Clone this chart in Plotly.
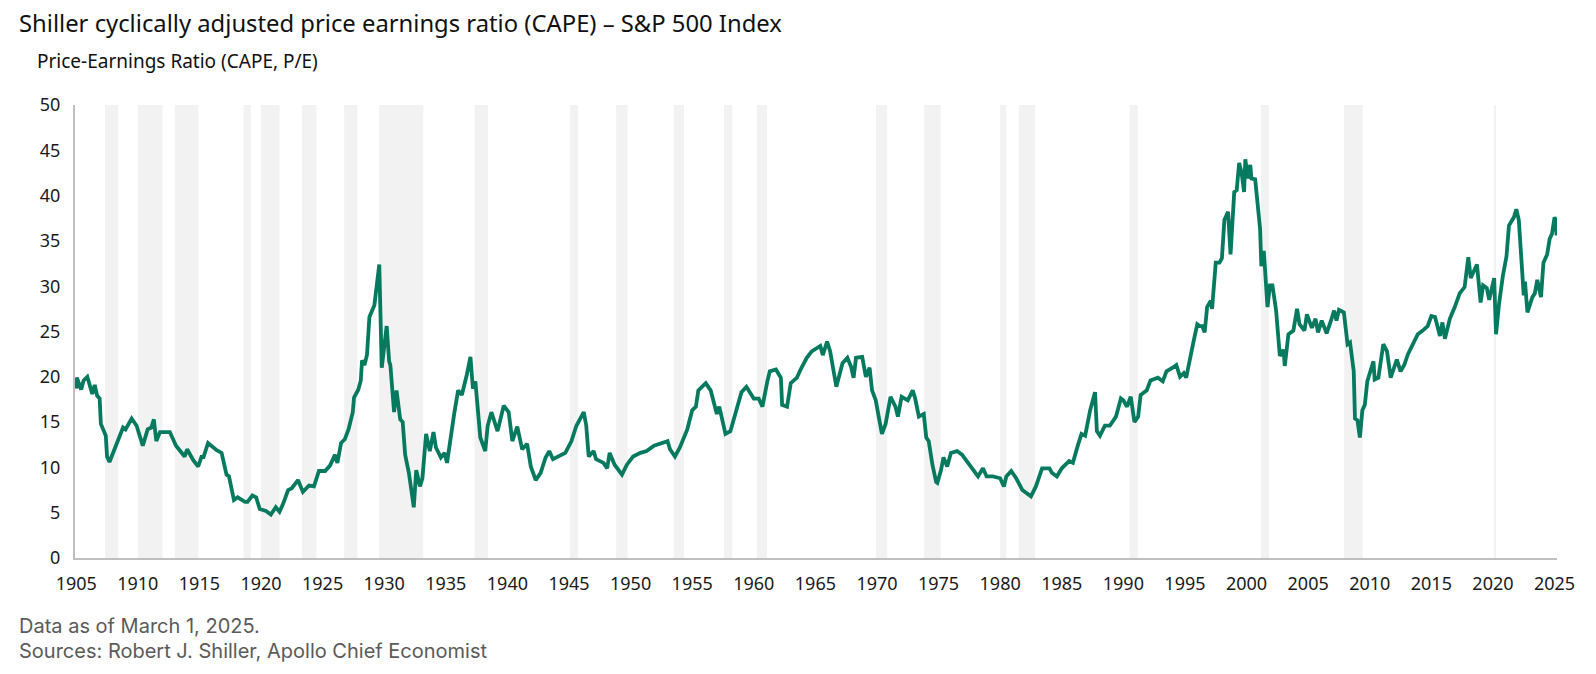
import plotly.graph_objects as go

# CAPE readings (decimal year, ratio)
years = [
    1905.0, 1905.05, 1905.4, 1905.6, 1905.9, 1906.3, 1906.5, 1906.7, 1906.9, 1907.0,
    1907.4, 1907.5, 1907.7, 1908.1, 1908.4, 1908.8, 1909.0, 1909.5, 1909.9, 1910.4,
    1910.8, 1911.1, 1911.3, 1911.5, 1911.8, 1912.6, 1913.1, 1913.8, 1914.0, 1914.5,
    1914.9, 1915.2, 1915.3, 1915.7, 1916.4, 1916.8, 1917.2, 1917.4, 1917.8, 1918.1,
    1918.7, 1918.9, 1919.3, 1919.6, 1919.9, 1920.4, 1920.8, 1921.2, 1921.5, 1921.8,
    1922.2, 1922.5, 1923.0, 1923.4, 1923.9, 1924.3, 1924.7, 1925.2, 1925.6, 1926.0,
    1926.2, 1926.5, 1926.8, 1927.1, 1927.45, 1927.55, 1927.9, 1928.1, 1928.2, 1928.4,
    1928.6, 1928.8, 1929.2, 1929.6, 1929.8, 1930.2, 1930.4, 1930.5, 1930.8, 1931.0,
    1931.3, 1931.5, 1931.7, 1932.0, 1932.4, 1932.6, 1932.9, 1933.1, 1933.4, 1933.7,
    1934.0, 1934.2, 1934.6, 1934.9, 1935.1, 1935.4, 1935.7, 1936.0, 1936.3, 1936.7,
    1937.0, 1937.2, 1937.4, 1937.8, 1938.2, 1938.4, 1938.7, 1939.2, 1939.7, 1940.1,
    1940.4, 1940.8, 1941.2, 1941.6, 1941.9, 1942.3, 1942.7, 1943.1, 1943.4, 1943.7,
    1944.1, 1944.7, 1945.2, 1945.6, 1946.2, 1946.4, 1946.6, 1947.0, 1947.2, 1947.8,
    1948.1, 1948.3, 1948.7, 1949.3, 1949.7, 1950.2, 1950.8, 1951.3, 1951.9, 1952.4,
    1953.0, 1953.2, 1953.6, 1954.0, 1954.6, 1955.0, 1955.3, 1955.5, 1955.8, 1956.1,
    1956.5, 1957.0, 1957.2, 1957.7, 1958.1, 1958.5, 1959.0, 1959.4, 1959.7, 1960.0,
    1960.4, 1960.7, 1961.1, 1961.3, 1961.8, 1962.2, 1962.3, 1962.7, 1963.0, 1963.5,
    1963.8, 1964.3, 1964.7, 1965.2, 1965.4, 1965.6, 1965.95, 1966.2, 1966.7, 1967.2,
    1967.6, 1967.9, 1968.1, 1968.3, 1968.8, 1969.1, 1969.4, 1969.6, 1969.9, 1970.1,
    1970.4, 1970.7, 1971.1, 1971.5, 1971.7, 1972.0, 1972.5, 1972.9, 1973.1, 1973.4,
    1973.8, 1974.0, 1974.2, 1974.5, 1974.8, 1974.9, 1975.2, 1975.4, 1975.7, 1976.0,
    1976.5, 1976.9, 1977.4, 1977.9, 1978.2, 1978.6, 1978.9, 1979.4, 1980.0, 1980.3,
    1980.5, 1980.9, 1981.3, 1981.8, 1982.2, 1982.5, 1982.9, 1983.4, 1984.0, 1984.2,
    1984.6, 1985.0, 1985.6, 1985.9, 1986.3, 1986.6, 1986.9, 1987.3, 1987.7, 1987.85,
    1988.1, 1988.5, 1988.9, 1989.4, 1989.8, 1990.0, 1990.3, 1990.6, 1990.9, 1991.2,
    1991.4, 1991.9, 1992.2, 1992.8, 1993.2, 1993.5, 1994.0, 1994.3, 1994.6, 1994.9,
    1995.1, 1995.4, 1995.7, 1996.0, 1996.2, 1996.4, 1996.6, 1996.8, 1997.1, 1997.2,
    1997.5, 1997.8, 1998.0, 1998.2, 1998.5, 1998.7, 1999.0, 1999.2, 1999.4, 1999.6,
    1999.8, 1999.9, 2000.1, 2000.3, 2000.4, 2000.7, 2000.9, 2001.1, 2001.2, 2001.4,
    2001.7, 2001.9, 2002.1, 2002.4, 2002.7, 2003.0, 2003.1, 2003.4, 2003.8, 2004.1,
    2004.3, 2004.7, 2004.9, 2005.3, 2005.6, 2005.8, 2006.1, 2006.5, 2006.9, 2007.1,
    2007.3, 2007.5, 2007.9, 2008.2, 2008.4, 2008.7, 2008.8, 2009.0, 2009.2, 2009.4,
    2009.6, 2009.8, 2010.0, 2010.3, 2010.4, 2010.7, 2011.1, 2011.4, 2011.7, 2012.2,
    2012.5, 2012.8, 2013.1, 2013.5, 2013.9, 2014.3, 2014.7, 2015.0, 2015.3, 2015.7,
    2015.9, 2016.1, 2016.5, 2016.9, 2017.3, 2017.7, 2018.0, 2018.2, 2018.7, 2019.0,
    2019.2, 2019.5, 2019.7, 2020.1, 2020.25, 2020.5, 2020.8, 2021.1, 2021.3, 2021.7,
    2021.9, 2022.1, 2022.3, 2022.5, 2022.6, 2022.8, 2023.2, 2023.4, 2023.6, 2023.9,
    2024.1, 2024.4, 2024.6, 2024.8, 2025.0, 2025.1, 2025.17,
]
cape = [
    18.7, 19.9, 18.6, 19.6, 20.0, 18.1, 19.1, 17.9, 17.6, 14.8,
    13.5, 11.2, 10.6, 12.0, 13.1, 14.4, 14.2, 15.4, 14.6, 12.4,
    14.2, 14.4, 15.3, 12.9, 13.9, 13.9, 12.4, 11.2, 12.0, 10.8,
    10.1, 11.3, 11.0, 12.7, 11.9, 11.6, 9.2, 9.0, 6.4, 6.7,
    6.2, 6.2, 6.9, 6.7, 5.4, 5.2, 4.8, 5.6, 5.1, 6.0,
    7.5, 7.7, 8.6, 7.3, 8.0, 7.9, 9.6, 9.6, 10.2, 11.4,
    10.5, 12.7, 13.1, 14.2, 16.1, 17.7, 18.6, 19.6, 21.8, 21.3,
    22.4, 26.6, 27.9, 32.4, 21.0, 25.6, 21.7, 21.3, 16.1, 18.5,
    15.3, 15.0, 11.4, 9.4, 5.6, 9.7, 7.9, 8.8, 13.7, 11.8,
    13.9, 12.2, 11.1, 11.6, 10.5, 13.5, 16.1, 18.5, 18.0, 20.2,
    22.2, 18.7, 19.5, 13.3, 11.8, 14.6, 16.1, 14.0, 16.8, 16.1,
    12.9, 14.5, 12.0, 12.6, 10.1, 8.6, 9.4, 11.1, 11.8, 10.9,
    11.2, 11.6, 12.9, 14.6, 16.1, 14.6, 11.2, 11.8, 10.9, 10.5,
    9.9, 11.6, 10.3, 9.2, 10.3, 11.2, 11.6, 11.8, 12.4, 12.6,
    12.9, 12.0, 11.2, 12.2, 14.2, 16.3, 16.7, 18.5, 18.9, 19.3,
    18.5, 15.9, 16.7, 13.7, 14.0, 15.9, 18.3, 18.9, 18.3, 17.6,
    17.6, 16.7, 19.5, 20.6, 20.8, 19.9, 16.9, 16.7, 19.3, 19.9,
    20.8, 22.1, 22.8, 23.3, 23.4, 22.4, 23.9, 22.8, 18.9, 21.5,
    22.1, 21.1, 19.9, 22.1, 22.2, 20.0, 21.0, 18.5, 17.4, 15.9,
    13.7, 14.8, 17.8, 16.7, 15.6, 17.8, 17.4, 18.5, 17.6, 15.6,
    15.9, 13.3, 12.9, 10.3, 8.4, 8.3, 9.7, 11.1, 10.1, 11.6,
    11.8, 11.4, 10.5, 9.7, 9.0, 9.9, 9.0, 9.0, 8.8, 7.9,
    9.0, 9.6, 8.8, 7.5, 7.1, 6.8, 7.9, 9.9, 9.9, 9.4,
    9.0, 9.9, 10.7, 10.5, 12.4, 13.7, 13.5, 16.3, 18.3, 14.0,
    13.5, 14.6, 14.6, 15.6, 17.6, 17.4, 16.7, 17.8, 15.0, 15.6,
    18.0, 18.5, 19.6, 19.9, 19.5, 20.6, 21.0, 21.3, 20.0, 20.4,
    19.9, 22.1, 23.9, 25.8, 25.6, 25.6, 24.9, 27.7, 28.4, 27.5,
    32.6, 32.6, 33.1, 37.3, 38.2, 33.5, 40.4, 40.6, 43.6, 42.5,
    40.4, 44.0, 41.9, 43.4, 41.9, 41.8, 38.9, 36.3, 32.2, 33.9,
    27.7, 30.1, 30.1, 27.3, 22.3, 23.0, 21.2, 24.7, 25.1, 27.5,
    25.8, 25.1, 26.9, 25.4, 26.4, 24.9, 26.2, 24.8, 26.4, 27.3,
    26.2, 27.4, 27.1, 23.6, 23.8, 20.6, 15.4, 15.2, 13.3, 16.3,
    16.9, 19.5, 20.4, 21.7, 19.7, 19.9, 23.6, 22.8, 19.9, 21.9,
    20.6, 21.3, 22.5, 23.6, 24.7, 25.1, 25.6, 26.7, 26.6, 24.5,
    26.0, 24.2, 26.4, 27.7, 29.2, 29.9, 33.2, 30.9, 32.4, 28.2,
    30.1, 29.8, 28.5, 30.9, 24.7, 28.1, 31.1, 33.3, 36.7, 37.6,
    38.5, 37.3, 33.7, 29.0, 30.5, 27.1, 28.8, 29.2, 30.7, 28.8,
    32.6, 33.5, 35.2, 35.8, 37.6, 37.3, 35.6,
]

# NBER recessions (decimal years)
rec_start = [1907.33, 1910.0, 1913.0, 1918.58, 1920.0, 1923.33, 1926.75, 1929.58,
             1937.33, 1945.08, 1948.83, 1953.5, 1957.58, 1960.25, 1969.92, 1973.83,
             1980.0, 1981.5, 1990.5, 2001.17, 2007.92, 2020.08]
rec_end = [1908.42, 1912.0, 1914.92, 1919.17, 1921.5, 1924.5, 1927.83, 1933.17,
           1938.42, 1945.75, 1949.75, 1954.33, 1958.25, 1961.08, 1970.83, 1975.17,
           1980.5, 1982.83, 1991.17, 2001.83, 2009.42, 2020.25]

tick_years = list(range(1905, 2026, 5))
y_ticks = list(range(0, 51, 5))

green = "#067a5f"
axis_font = dict(family="Noto Sans, Open Sans, sans-serif", size=18, color="#1a1a1a")

fig = go.Figure()
fig.add_trace(go.Scatter(x=years, y=cape, mode="lines",
                         line=dict(color=green, width=3.8), showlegend=False))

for s, e in zip(rec_start, rec_end):
    fig.add_shape(type="rect", xref="x", yref="y", x0=s, x1=e, y0=0, y1=50,
                  fillcolor="#f2f2f2", line=dict(width=0), layer="below")

# page body adds an 8px offset, so the figure is 8px smaller than the window
fig.update_layout(
    width=1588, height=666,
    margin=dict(l=67, r=39, t=97, b=116),
    paper_bgcolor="white", plot_bgcolor="white",
    font=axis_font,
    annotations=[
        dict(text="Shiller cyclically adjusted price earnings ratio (CAPE) \u2013 S&P 500 Index",
             xref="paper", yref="paper", x=-0.0391, y=1.18, xanchor="left", yanchor="middle",
             showarrow=False, font=dict(family="Noto Sans, sans-serif", size=23.8, color="#111111")),
        dict(text="Price-Earnings Ratio (CAPE, P/E)",
             xref="paper", yref="paper", x=-0.027, y=1.097, xanchor="left", yanchor="middle",
             showarrow=False, font=dict(family="Noto Sans, sans-serif", size=19, color="#111111")),
        dict(text="Data as of March 1, 2025.",
             xref="paper", yref="paper", x=-0.0391, y=-0.151, xanchor="left", yanchor="middle",
             showarrow=False, font=dict(family="Inter, sans-serif", size=20, color="#5a5a5a")),
        dict(text="Sources: Robert J. Shiller, Apollo Chief Economist",
             xref="paper", yref="paper", x=-0.0391, y=-0.205, xanchor="left", yanchor="middle",
             showarrow=False, font=dict(family="Inter, sans-serif", size=20, color="#5a5a5a")),
    ],
)
fig.update_xaxes(range=[1904.9, 2025.2], tickvals=tick_years, ticktext=[str(t) for t in tick_years],
                 showgrid=False, zeroline=False, showline=True, linecolor="#bfbfbf", linewidth=2,
                 ticks="", ticklabelstandoff=8)
fig.update_yaxes(range=[0, 50], tickvals=y_ticks, showgrid=False, zeroline=False,
                 showline=True, linecolor="#bfbfbf", linewidth=2, ticks="", ticklabelstandoff=9)

fig.write_html("out.html")
